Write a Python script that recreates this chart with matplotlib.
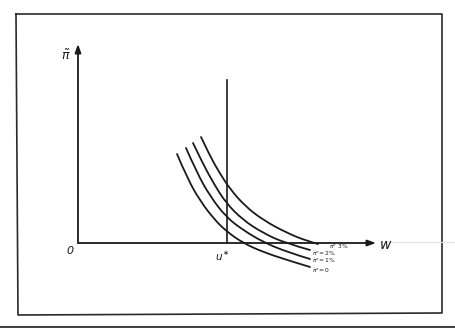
import matplotlib
matplotlib.use("Agg")
import matplotlib.pyplot as plt
from matplotlib.path import Path
from matplotlib.patches import PathPatch

# Curves (pixel-like coordinates, y downwards)
curve0_x = [177, 188, 201, 214, 226, 243, 263, 287, 310]
curve0_y = [154, 180, 202, 219, 231, 243, 252, 260, 267]
curve1_x = [186, 197, 210, 226, 243, 263, 287, 310]
curve1_y = [148, 173, 196, 217, 230, 242, 252, 259]
curve2_x = [193, 203, 214, 226, 243, 263, 285, 310]
curve2_y = [143, 164, 184, 203, 220, 233, 243, 250]
curve3_x = [201, 210, 219, 230, 245, 263, 287, 307, 318]
curve3_y = [137, 156, 172, 189, 206, 220, 233, 241, 244]
curves_x = [curve0_x, curve1_x, curve2_x, curve3_x]
curves_y = [curve0_y, curve1_y, curve2_y, curve3_y]
curve_labels = [r"$\tilde{\pi}^e\!=0$", r"$\tilde{\pi}^e\!=1\%$",
                r"$\tilde{\pi}^e\!=2\%$", r"$\tilde{\pi}^e\ 3\%$"]
label_x = [312, 312, 312, 329]
label_y = [271, 261, 254, 247]

W, H = 456, 328
fig = plt.figure(figsize=(W / 100, H / 100), dpi=100)
ax = fig.add_axes([0, 0, 1, 1])
ax.set_xlim(0, W)
ax.set_ylim(H, 0)
ax.axis("off")

ink = "#1a1a1a"
# frame
ax.plot([16, 442, 442, 18, 16], [14, 14, 313, 315, 14], color="#2a2a2a", lw=1.2)
ax.plot([0, W], [327, 327], color="#444444", lw=1.5)

# faint line continuing the axis to the right
ax.plot([390, W], [242, 242], color="#e0e0e0", lw=0.8)

# axes
ax.annotate("", xy=(78, 44), xytext=(78, 243),
            arrowprops=dict(arrowstyle="-|>,head_length=0.5,head_width=0.18",
                            color=ink, lw=1.3, shrinkA=0, shrinkB=0))
ax.annotate("", xy=(376, 243), xytext=(78, 243),
            arrowprops=dict(arrowstyle="-|>,head_length=0.5,head_width=0.18",
                            color=ink, lw=1.3, shrinkA=0, shrinkB=0))
# natural rate vertical line
ax.plot([227, 227], [80, 243], color=ink, lw=1.2)


def smooth_path(xs, ys):
    pts = list(zip(xs, ys))
    verts = [pts[0]]
    codes = [Path.MOVETO]
    n = len(pts)
    for i in range(1, n - 1):
        ctrl = pts[i]
        if i < n - 2:
            end = ((pts[i][0] + pts[i + 1][0]) / 2, (pts[i][1] + pts[i + 1][1]) / 2)
        else:
            end = pts[-1]
        verts += [ctrl, end]
        codes += [Path.CURVE3, Path.CURVE3]
    return Path(verts, codes)


for xs, ys in zip(curves_x, curves_y):
    ax.add_patch(PathPatch(smooth_path(xs, ys), facecolor="none",
                           edgecolor=ink, lw=1.3, capstyle="round"))

for t, x, y in zip(curve_labels, label_x, label_y):
    ax.text(x, y, t, fontsize=4.3, color=ink, ha="left", va="center")

ax.text(66, 56, r"$\tilde{\pi}$", fontsize=9, color=ink, ha="center", va="center")
ax.text(70, 251, "0", fontsize=8, style="italic", color=ink, ha="center", va="center")
ax.text(222, 256, r"$u^{\ast}$", fontsize=7.5, color=ink, ha="center", va="center")
ax.text(386, 245, r"$w$", fontsize=10, color=ink, ha="center", va="center")

fig.savefig("out.png", dpi=100, facecolor="white")
